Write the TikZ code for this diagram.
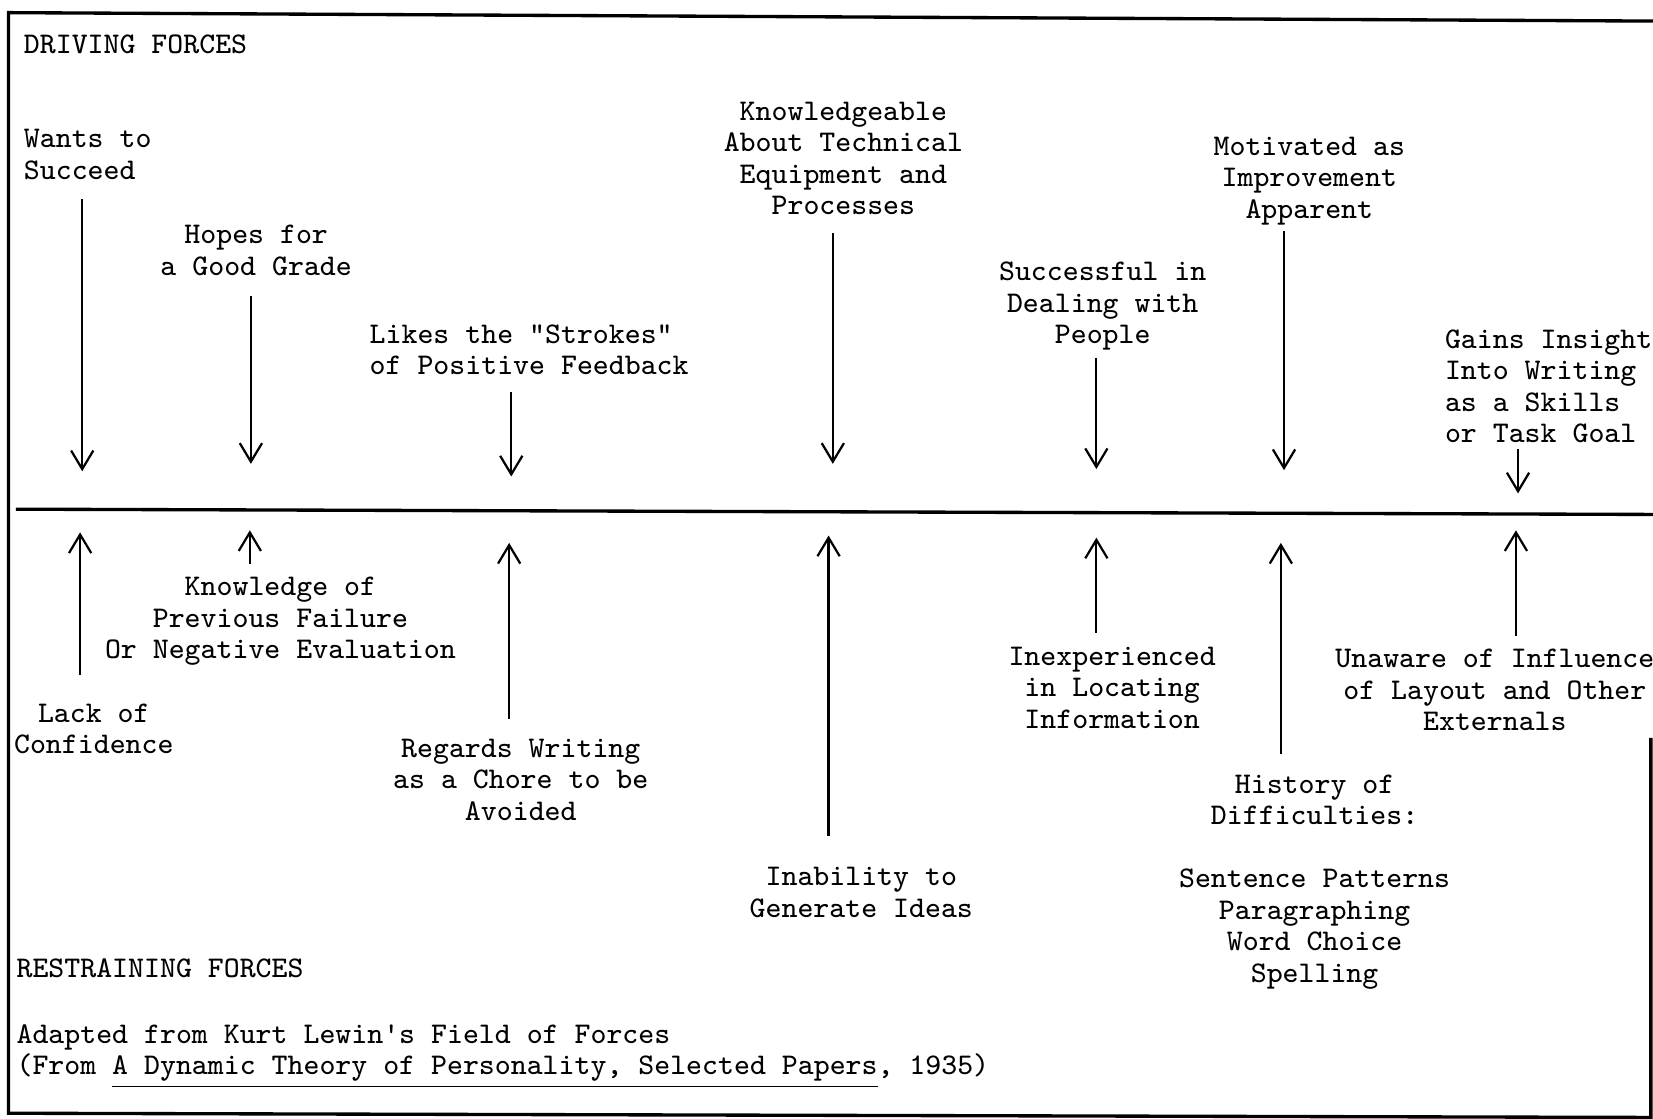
\documentclass[tikz,border=0pt]{standalone}
\usetikzlibrary{arrows.meta}

\tikzset{
    forcetext/.style={font=\ttfamily\fontsize{8.1}{8.5}\selectfont, inner sep=0pt, align=center, anchor=north},
    force/.style={line width=0.6pt, -{Straight Barb[length=5pt,width=6pt]}},
    frame/.style={line width=0.9pt}
}

\begin{document}
\begin{tikzpicture}[x=0.01cm, y=-0.01cm]
    \useasboundingbox (0,0) rectangle (1568,1061);

    % frame and the dividing line
    \draw[frame] (1568,20) -- (8,12) -- (8,1056) -- (1566,1060) -- (1566,700);
    \draw[frame] (15,483) -- (1568,488);

    % driving forces
    \node[forcetext, anchor=north west] (driving) at (22,32) {DRIVING FORCES};
    \node[forcetext, anchor=north west, align=left] (wants) at (22,122) {Wants to\\Succeed};
    \node[forcetext] (hopes) at (243,213) {Hopes for\\a Good Grade};
    \node[forcetext, anchor=north west, align=left] (likes) at (350,307) {Likes the "Strokes"\\of Positive Feedback};
    \node[forcetext] (knowl) at (800,96) {Knowledgeable\\About Technical\\Equipment and\\Processes};
    \node[forcetext] (succ) at (1046,248) {Successful in\\Dealing with\\People};
    \node[forcetext] (motiv) at (1242,129) {Motivated as\\Improvement\\Apparent};
    \node[forcetext, anchor=north west, align=left] (gains) at (1370,312) {Gains Insight\\Into Writing\\as a Skills\\or Task Goal};

    \coordinate (d1) at (78,447);
    \coordinate (d2) at (238,440);
    \coordinate (d3) at (485,452);
    \coordinate (d4) at (790,440);
    \coordinate (d5) at (1040,445);
    \coordinate (d6) at (1218,446);
    \coordinate (d7) at (1440,468);

    \draw[force, shorten <=0.18cm] (wants.south -| d1) -- (d1);
    \draw[force, shorten <=0.19cm] (hopes.south -| d2) -- (d2);
    \draw[force, shorten <=0.16cm] (likes.south -| d3) -- (d3);
    \draw[force, shorten <=0.16cm] (knowl.south -| d4) -- (d4);
    \draw[force, shorten <=0.06cm] (succ.south -| d5) -- (d5);
    \draw[force, shorten <=0.05cm] (motiv.south -| d6) -- (d6);
    \draw[force, shorten <=0.05cm] (gains.south -| d7) -- (d7);

    % restraining forces
    \node[forcetext] (lack) at (89,667) {Lack of\\Confidence};
    \node[forcetext] (failure) at (266,547) {Knowledge of\\Previous Failure\\Or Negative Evaluation};
    \node[forcetext] (chore) at (494,700) {Regards Writing\\as a Chore to be\\Avoided};
    \node[forcetext] (ideas) at (817,822) {Inability to\\Generate Ideas};
    \node[forcetext] (inexp) at (1055,613) {Inexperienced\\in Locating\\Information};
    \node[forcetext] (history) at (1247,734) {History of\\Difficulties:\\[0.3cm]Sentence Patterns\\Paragraphing\\Word Choice\\Spelling};
    \node[forcetext] (unaware) at (1418,615) {Unaware of Influence\\of Layout and Other\\Externals};

    \coordinate (u1) at (76,505);
    \coordinate (u2) at (237,503);
    \coordinate (u3) at (483,515);
    \coordinate (u4) at (786,508);
    \coordinate (u5) at (1040,510);
    \coordinate (u6) at (1215,515);
    \coordinate (u7) at (1438,503);

    \draw[force, shorten <=0.27cm] (lack.north -| u1) -- (u1);
    \draw[force, shorten <=0.12cm] (failure.north -| u2) -- (u2);
    \draw[force, shorten <=0.18cm] (chore.north -| u3) -- (u3);
    \draw[force, shorten <=0.29cm] (ideas.north -| u4) -- (u4);
    \draw[force, shorten <=0.13cm] (inexp.north -| u5) -- (u5);
    \draw[force, shorten <=0.19cm] (history.north -| u6) -- (u6);
    \draw[force, shorten <=0.12cm] (unaware.north -| u7) -- (u7);

    \node[forcetext, anchor=north west] (restraining) at (15,909) {RESTRAINING FORCES};
    \node[forcetext, anchor=north west, align=left] (source) at (15,971) {Adapted from Kurt Lewin's Field of Forces\\(From \underline{A Dynamic Theory of Personality, Selected Papers}, 1935)};
\end{tikzpicture}
\end{document}
